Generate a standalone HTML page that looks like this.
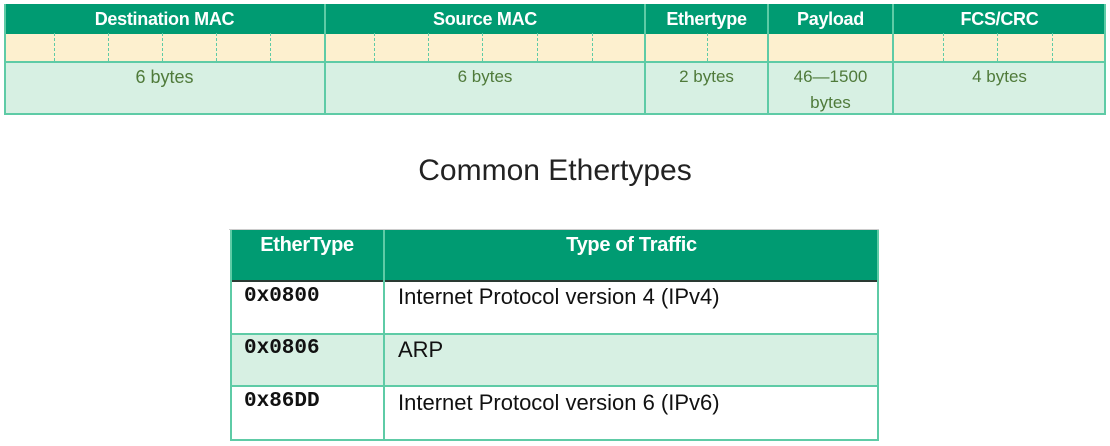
<!DOCTYPE html>
<html><head><meta charset="utf-8"><style>
body{margin:0;width:1110px;height:446px;background:#fff;position:relative;overflow:hidden;font-family:"Liberation Sans",sans-serif}
.a{position:absolute;box-sizing:border-box}
.hd{background:#009b72;color:#fff;font-weight:bold;font-size:18px;text-align:center;line-height:30px;letter-spacing:-0.3px}
.ye{background:#fdf0cf}
.lg{background:#d7f0e3;color:#4f7a3a;font-size:17px;text-align:center;line-height:26px}
.vl{background:#5ecba6;width:2px}
.dl{width:0;border-left:1.5px dashed #5ecba6}
.hl{background:#5ecba6;height:2px}
.mo{font:bold 21px 'Liberation Mono',monospace;color:#111}
.tx{font-size:22px;color:#111}
</style></head><body>
<div class="a hd" style="left:4px;top:4px;width:1102px;height:29px"></div>
<div class="a ye" style="left:4px;top:33px;width:1102px;height:29px"></div>
<div class="a lg" style="left:4px;top:62px;width:1102px;height:52px"></div>
<div class="a hd" style="left:4px;top:4px;width:321px">Destination MAC</div>
<div class="a hd" style="left:325px;top:4px;width:320px">Source MAC</div>
<div class="a hd" style="left:645px;top:4px;width:123px">Ethertype</div>
<div class="a hd" style="left:768px;top:4px;width:125px">Payload</div>
<div class="a hd" style="left:893px;top:4px;width:213px">FCS/CRC</div>
<div class="a lg" style="left:4px;top:64px;width:321px;background:none;font-size:18px">6 bytes</div>
<div class="a lg" style="left:325px;top:64px;width:320px;background:none">6 bytes</div>
<div class="a lg" style="left:645px;top:64px;width:123px;background:none">2 bytes</div>
<div class="a lg" style="left:768px;top:64px;width:125px;background:none">46—1500<br>bytes</div>
<div class="a lg" style="left:893px;top:64px;width:213px;background:none">4 bytes</div>
<div class="a hl" style="left:4px;top:61px;width:1102px"></div>
<div class="a hl" style="left:4px;top:113px;width:1102px"></div>
<div class="a vl" style="left:4px;top:4px;height:111px"></div>
<div class="a vl" style="left:1104px;top:4px;height:111px"></div>
<div class="a vl" style="left:324px;top:4px;height:111px"></div>
<div class="a vl" style="left:644px;top:4px;height:111px"></div>
<div class="a vl" style="left:767px;top:4px;height:111px"></div>
<div class="a vl" style="left:892px;top:4px;height:111px"></div>
<div class="a dl" style="left:54px;top:33px;height:28px"></div>
<div class="a dl" style="left:108px;top:33px;height:28px"></div>
<div class="a dl" style="left:162px;top:33px;height:28px"></div>
<div class="a dl" style="left:216px;top:33px;height:28px"></div>
<div class="a dl" style="left:270px;top:33px;height:28px"></div>
<div class="a dl" style="left:374px;top:33px;height:28px"></div>
<div class="a dl" style="left:428px;top:33px;height:28px"></div>
<div class="a dl" style="left:482px;top:33px;height:28px"></div>
<div class="a dl" style="left:537px;top:33px;height:28px"></div>
<div class="a dl" style="left:592px;top:33px;height:28px"></div>
<div class="a dl" style="left:707px;top:33px;height:28px"></div>
<div class="a dl" style="left:943px;top:33px;height:28px"></div>
<div class="a dl" style="left:997px;top:33px;height:28px"></div>
<div class="a dl" style="left:1052px;top:33px;height:28px"></div>

<div class="a" style="left:0;top:154px;width:1110px;text-align:center;font-size:30px;color:#222">Common Ethertypes</div>

<div class="a" style="left:229px;top:229px;width:650px;height:1px;background:#ccc"></div>
<div class="a hd" style="left:230px;top:230px;width:649px;height:52px;border-bottom:2px solid #2a3a33"></div>
<div class="a hd" style="left:230px;top:230px;width:154px;font-size:20px">EtherType</div>
<div class="a hd" style="left:384px;top:230px;width:495px;font-size:20px">Type of Traffic</div>
<div class="a" style="left:230px;top:334px;width:649px;height:52px;background:#d7f0e3"></div>
<div class="a" style="left:230px;top:230px;width:649px;height:211px;border:2px solid #5ecba6;border-top:none"></div>
<div class="a hl" style="left:230px;top:333px;width:649px"></div>
<div class="a hl" style="left:230px;top:385px;width:649px"></div>
<div class="a vl" style="left:383px;top:230px;height:211px"></div>
<div class="a mo" style="left:244px;top:285px">0x0800</div>
<div class="a mo" style="left:244px;top:337px">0x0806</div>
<div class="a mo" style="left:244px;top:390px">0x86DD</div>
<div class="a tx" style="left:398px;top:284px">Internet Protocol version 4 (IPv4)</div>
<div class="a tx" style="left:398px;top:337px">ARP</div>
<div class="a tx" style="left:398px;top:390px">Internet Protocol version 6 (IPv6)</div>
</body></html>
